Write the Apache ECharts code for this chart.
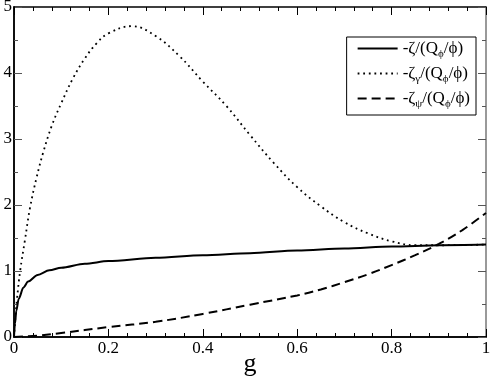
<!DOCTYPE html>
<html>
<head>
<meta charset="utf-8">
<script src="https://cdn.jsdelivr.net/npm/echarts@6/dist/echarts.min.js"></script>
<style>
  html, body { margin: 0; padding: 0; background: #fff; }
  #chart { width: 491px; height: 379px; }
</style>
</head>
<body>
<div id="chart"></div>
<script>
// -zeta/(Q_phi/phi)
const gZeta = [0, 0.002, 0.005, 0.01, 0.02, 0.03, 0.05, 0.075, 0.1, 0.15, 0.2, 0.3, 0.4, 0.5, 0.6, 0.7, 0.8, 0.9, 1.0];
const vZeta = [0, 0.2, 0.4, 0.58, 0.75, 0.84, 0.94, 1.01, 1.05, 1.11, 1.15, 1.2, 1.24, 1.27, 1.31, 1.34, 1.37, 1.39, 1.4];

// -zeta_gamma/(Q_phi/phi)
const gGamma = [0, 0.003, 0.006, 0.013, 0.023, 0.034, 0.048, 0.062, 0.08, 0.1, 0.125, 0.15, 0.175, 0.2, 0.25, 0.3, 0.35, 0.4, 0.45, 0.5, 0.55, 0.6, 0.65, 0.7, 0.75, 0.8, 0.85, 0.9, 1.0];
const vGamma = [0, 0.3, 0.55, 1.0, 1.46, 1.96, 2.42, 2.8, 3.2, 3.54, 3.92, 4.22, 4.45, 4.6, 4.71, 4.56, 4.26, 3.87, 3.5, 3.06, 2.64, 2.27, 1.98, 1.74, 1.57, 1.45, 1.39, 1.39, 1.4];

// -zeta_psi/(Q_phi/phi)
const gPsi = [0, 0.05, 0.1, 0.2, 0.3, 0.4, 0.5, 0.6, 0.65, 0.7, 0.75, 0.8, 0.85, 0.9, 0.95, 1.0];
const vPsi = [0, 0.02, 0.06, 0.15, 0.23, 0.35, 0.49, 0.63, 0.72, 0.83, 0.95, 1.09, 1.24, 1.41, 1.62, 1.88];

const xTicks = ['0', '0.2', '0.4', '0.6', '0.8', '1'];
const yTicks = ['0', '1', '2', '3', '4', '5'];

const pairs = (xs, ys) => xs.map((x, i) => [x, ys[i]]);

const font = 'Liberation Serif';
const rich = {
  a: { fontFamily: font, fontSize: 17, color: '#000', height: 22 },
  s: { fontFamily: font, fontSize: 11, color: '#000', padding: [12, 0, 0, 0] }
};

// plot box, used to move the tick axes onto the opposite edge
const gridBox = { left: 14, right: 5, top: 7, bottom: 42 };
const plotW = 491 - gridBox.left - gridBox.right;
const plotH = 379 - gridBox.top - gridBox.bottom;

const chart = echarts.init(document.getElementById('chart'));

// label axis: line + labels, no ticks
function labelAxis(opts) {
  return Object.assign({
    type: 'value', min: 0,
    axisLine: { show: true, onZero: false, lineStyle: { color: '#000', width: 1.5 } },
    axisTick: { show: false },
    splitLine: { show: false }
  }, opts);
}

// tick axis: sits on the opposite edge, so its outward ticks point into the plot
function tickAxis(opts, tickColor, lineColor, minorSplit) {
  return Object.assign({
    type: 'value', min: 0,
    axisLine: { show: true, onZero: false, lineStyle: { color: lineColor, width: 1.5 } },
    axisTick: { show: true, inside: false, length: 8, lineStyle: { color: tickColor, width: 1 } },
    minorTick: { show: true, splitNumber: minorSplit, length: 4, lineStyle: { color: tickColor, width: 1 } },
    axisLabel: { show: false },
    splitLine: { show: false }
  }, opts);
}

chart.setOption({
  animation: false,
  grid: Object.assign({ outerBoundsMode: 'none', containLabel: false }, gridBox),
  xAxis: [
    labelAxis({
      max: 1, interval: 0.2, position: 'bottom',
      name: 'g', nameLocation: 'middle', nameGap: 14, nameMoveOverlap: false,
      nameTextStyle: { fontFamily: font, fontSize: 26, color: '#000' },
      axisLabel: {
        fontFamily: font, fontSize: 17, color: '#000', margin: 3,
        formatter: v => xTicks[Math.round(v / 0.2)]
      }
    }),
    // ticks along the bottom edge
    tickAxis({ max: 1, interval: 0.2, position: 'top', offset: -plotH }, '#000', '#000', 5),
    // ticks along the top edge
    tickAxis({ max: 1, interval: 0.2, position: 'bottom', offset: -plotH }, '#000', '#000', 5)
  ],
  yAxis: [
    labelAxis({
      max: 5, interval: 1, position: 'left',
      axisLabel: {
        fontFamily: font, fontSize: 17, color: '#000', margin: 2,
        formatter: v => yTicks[Math.round(v)]
      }
    }),
    // ticks along the left edge
    tickAxis({ max: 5, interval: 1, position: 'right', offset: -plotW }, '#555', '#000', 2),
    // ticks along the right edge
    tickAxis({ max: 5, interval: 1, position: 'left', offset: -plotW }, '#555', '#777', 2)
  ],
  legend: {
    right: 15, top: 37,
    orient: 'vertical',
    backgroundColor: '#fff',
    borderColor: '#000', borderWidth: 1,
    padding: [3, 6, 5, 10],
    itemGap: 5,
    itemWidth: 40, itemHeight: 14,
    itemStyle: { opacity: 0 },
    data: ['zeta', 'gamma', 'psi'],
    formatter: name => {
      if (name === 'zeta') return '{a|-ζ/(Q}{s|ϕ}{a|/ϕ)}';
      if (name === 'gamma') return '{a|-ζ}{s|γ}{a|/(Q}{s|ϕ}{a|/ϕ)}';
      return '{a|-ζ}{s|ψ}{a|/(Q}{s|ϕ}{a|/ϕ)}';
    },
    textStyle: { rich: rich }
  },
  series: [
    {
      name: 'zeta', type: 'line', data: pairs(gZeta, vZeta),
      symbol: 'none', smooth: 0.3, smoothMonotone: 'x',
      lineStyle: { color: '#000', width: 2 },
      itemStyle: { color: '#000' }
    },
    {
      name: 'gamma', type: 'line', data: pairs(gGamma, vGamma),
      symbol: 'none', smooth: 0.4,
      lineStyle: { color: '#000', width: 1.8, type: [1.8, 3.8] },
      itemStyle: { color: '#000' }
    },
    {
      name: 'psi', type: 'line', data: pairs(gPsi, vPsi),
      symbol: 'none', smooth: 0.4,
      lineStyle: { color: '#000', width: 2, type: [9, 5] },
      itemStyle: { color: '#000' }
    }
  ]
});
</script>
</body>
</html>
